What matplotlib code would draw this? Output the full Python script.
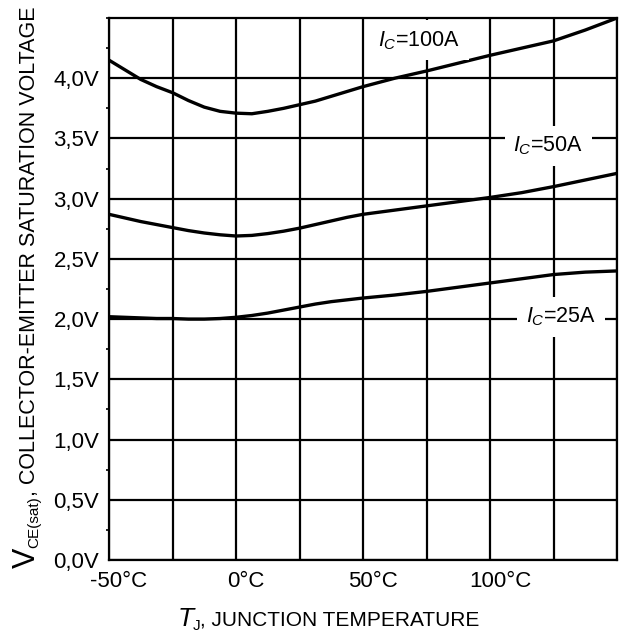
import matplotlib
matplotlib.use('Agg')
import matplotlib.pyplot as plt
import matplotlib.transforms as mtransforms
from matplotlib.ticker import MultipleLocator
import numpy as np

plt.rcParams['font.family'] = ['Liberation Sans', 'DejaVu Sans']
plt.rcParams['mathtext.fontset'] = 'custom'
plt.rcParams['mathtext.rm'] = 'Liberation Sans'
plt.rcParams['mathtext.it'] = 'Liberation Sans:italic'

# junction temperature (degC) and VCE(sat) (V) for each collector current
temp = [-50, -43.75, -37.5, -31.25, -25, -18.75, -12.5, -6.25, 0, 6.25, 12.5, 18.75,
        25, 31.25, 37.5, 43.75, 50, 62.5, 75, 87.5, 100, 112.5, 125, 137.5, 150]
vce_100a = [4.15, 4.07, 3.99, 3.93, 3.88, 3.815, 3.76, 3.725, 3.71, 3.705, 3.725, 3.75,
            3.78, 3.81, 3.85, 3.89, 3.93, 4.00, 4.06, 4.125, 4.19, 4.25, 4.31, 4.40, 4.50]
vce_50a = [2.87, 2.84, 2.81, 2.785, 2.76, 2.735, 2.715, 2.70, 2.69, 2.695, 2.71, 2.73,
           2.755, 2.785, 2.815, 2.845, 2.87, 2.905, 2.94, 2.975, 3.01, 3.05, 3.10, 3.155, 3.21]
vce_25a = [2.02, 2.015, 2.01, 2.005, 2.005, 2.00, 2.00, 2.005, 2.015, 2.03, 2.05, 2.075,
           2.10, 2.125, 2.145, 2.16, 2.175, 2.20, 2.23, 2.265, 2.30, 2.335, 2.37, 2.39, 2.40]

curve_labels = [r'$I_C$=100A', r'$I_C$=50A', r'$I_C$=25A']
label_pos = [(72, 4.315), (123, 3.44), (128, 2.02)]

x_ticks = [-50, -25, 0, 25, 50, 75, 100, 125, 150]
x_ticklabels = ['-50°C', '', '0°C', '', '50°C', '', '100°C', '', '']
y_ticks = [0.0, 0.5, 1.0, 1.5, 2.0, 2.5, 3.0, 3.5, 4.0]
y_ticklabels = ['0,0V', '0,5V', '1,0V', '1,5V', '2,0V', '2,5V', '3,0V', '3,5V', '4,0V']

W, H = 619, 632
fig = plt.figure(figsize=(W / 100, H / 100), dpi=100)
ax = fig.add_axes([109 / W, 72 / H, 508 / W, 542 / H])


def px(x, y):
    # pixel position (from top left) to figure fraction
    return x / W, 1 - y / H


for v in [vce_100a, vce_50a, vce_25a]:
    ax.plot(temp, v, color='black', lw=2.4, zorder=3, solid_joinstyle='round')

for txt, (tx, ty) in zip(curve_labels, label_pos):
    ax.text(tx, ty, txt, ha='center', va='center', fontsize=15.5, zorder=5,
            bbox=dict(facecolor='white', edgecolor='none', boxstyle='square,pad=0.4'))

ax.set_xlim(-50, 150)
ax.set_ylim(0, 4.5)
ax.set_xticks(x_ticks)
ax.set_xticklabels(x_ticklabels)
ax.set_yticks(y_ticks)
ax.set_yticklabels(y_ticklabels)
ax.yaxis.set_minor_locator(MultipleLocator(0.25))
ax.tick_params(which='major', length=0, labelsize=16)
ax.tick_params(axis='y', which='major', pad=7)
ax.tick_params(axis='x', which='major', pad=8)
ax.tick_params(axis='y', which='minor', length=2.5, width=1.2, direction='out')
ax.tick_params(axis='x', which='minor', length=0)
ax.grid(True, which='major', color='black', lw=1.6)
ax.set_axisbelow(True)
for s in ax.spines.values():
    s.set_linewidth(1.6)

# x tick labels sit a bit right of their grid lines
shift = mtransforms.ScaledTranslation(10 / 100, 0, fig.dpi_scale_trans)
for lbl in ax.get_xticklabels():
    lbl.set_transform(lbl.get_transform() + shift)

# axis titles built from pieces (large symbol + small subscript)
rot = dict(rotation=90, rotation_mode='anchor', ha='left', va='baseline')
fig.text(*px(35, 568), 'V', fontsize=22, **rot)
fig.text(*px(38, 548), 'CE(sat)', fontsize=11, **rot)
fig.text(*px(35, 496), ', COLLECTOR-EMITTER SATURATION VOLTAGE', fontsize=15.5, **rot)

fig.text(*px(178, 626), 'T', fontsize=19, style='italic', ha='left', va='baseline')
fig.text(*px(193, 630), 'J', fontsize=11, ha='left', va='baseline')
fig.text(*px(200, 625), ', JUNCTION TEMPERATURE', fontsize=15, ha='left', va='baseline')

fig.savefig('out.png', dpi=100)
